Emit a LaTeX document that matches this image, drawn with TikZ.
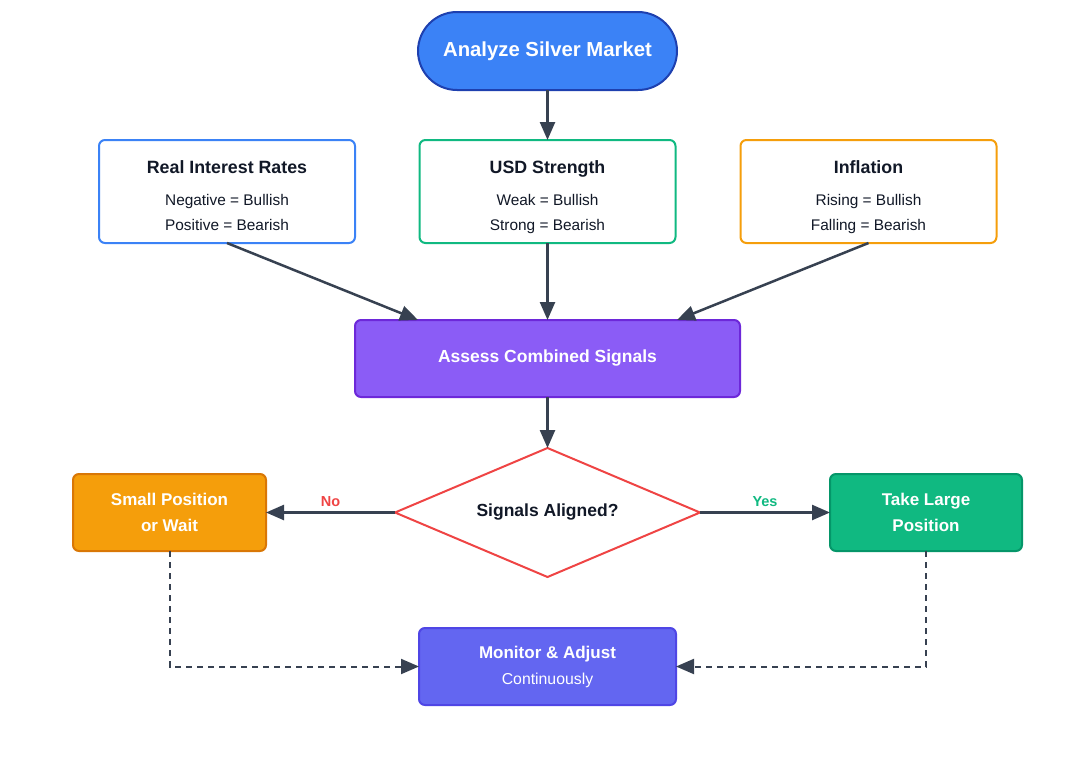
\documentclass[tikz,border=0pt]{standalone}
\usepackage{fontspec}
\setmainfont{Liberation Sans}
\usetikzlibrary{arrows.meta,positioning,shapes.geometric}

\definecolor{arrowgray}{HTML}{374151}
\definecolor{startblue}{HTML}{3B82F6}
\definecolor{startedge}{HTML}{1E40AF}
\definecolor{factblue}{HTML}{3B82F6}
\definecolor{factgreen}{HTML}{10B981}
\definecolor{factorange}{HTML}{F59E0B}
\definecolor{assessfill}{HTML}{8B5CF6}
\definecolor{assessedge}{HTML}{6D28D9}
\definecolor{decred}{HTML}{EF4444}
\definecolor{waitfill}{HTML}{F59E0B}
\definecolor{waitedge}{HTML}{D97706}
\definecolor{largefill}{HTML}{10B981}
\definecolor{largeedge}{HTML}{059669}
\definecolor{monfill}{HTML}{6366F1}
\definecolor{monedge}{HTML}{4F46E5}
\definecolor{textdark}{HTML}{111827}

\begin{document}
\begin{tikzpicture}[x=1pt,y=-1pt,>={Triangle[length=18pt,width=15pt]},line width=2.5pt,draw=arrowgray]
\tikzstyle{every node}=[inner sep=0pt,outer sep=0pt]
\tikzstyle{start}=[shape=rectangle,rounded corners=39pt,fill=startblue,draw=startedge,line width=2pt,minimum width=259pt,minimum height=78pt,text=white,font=\fontsize{20.3}{24}\selectfont\bfseries]
\tikzstyle{factor}=[shape=rectangle,rounded corners=6pt,fill=white,line width=2pt,minimum width=256pt,minimum height=103pt]
\tikzstyle{ftitle}=[anchor=base,text=textdark,font=\fontsize{17.8}{20}\selectfont\bfseries]
\tikzstyle{fline}=[anchor=base,text=textdark,font=\fontsize{15.4}{18}\selectfont]
\tikzstyle{action}=[shape=rectangle,rounded corners=6pt,line width=2pt,minimum height=77pt,text=white,align=center,font=\fontsize{17}{26}\selectfont\bfseries]
\tikzstyle{decision}=[shape=diamond,aspect=2.364,fill=white,draw=decred,line width=2pt,minimum width=305pt,minimum height=129pt,text=textdark,font=\fontsize{17.5}{20}\selectfont\bfseries]
\tikzstyle{flow}=[->,arrowgray,line width=2.5pt]
\tikzstyle{loopback}=[->,arrowgray,line width=2pt,dash pattern=on 6pt off 5pt]

\useasboundingbox (0,0) rectangle (1086,779);

\node[start]                 (analyze) at (547.5,51)    {Analyze Silver Market};

\node[factor,draw=factblue]   (rates)  at (227,191.5)   {};
\node[factor,draw=factgreen]  (usd)    at (547.5,191.5) {};
\node[factor,draw=factorange] (infl)   at (868.5,191.5) {};

\node[ftitle,yshift=-33pt]   (ratesT)  at (rates.north) {Real Interest Rates};
\node[fline,yshift=-65.5pt]  (ratesA)  at (rates.north) {Negative = Bullish};
\node[fline,yshift=-90.5pt]  (ratesB)  at (rates.north) {Positive = Bearish};
\node[ftitle,yshift=-33pt]   (usdT)    at (usd.north)   {USD Strength};
\node[fline,yshift=-65.5pt]  (usdA)    at (usd.north)   {Weak = Bullish};
\node[fline,yshift=-90.5pt]  (usdB)    at (usd.north)   {Strong = Bearish};
\node[ftitle,yshift=-33pt]   (inflT)   at (infl.north)  {Inflation};
\node[fline,yshift=-65.5pt]  (inflA)   at (infl.north)  {Rising = Bullish};
\node[fline,yshift=-90.5pt]  (inflB)   at (infl.north)  {Falling = Bearish};

\node[action,fill=assessfill,draw=assessedge,minimum width=385pt,font=\fontsize{17.5}{26}\selectfont\bfseries] (assess) at (547.5,358.5) {Assess Combined Signals};
\node[decision] (aligned) at (547.5,512.5) {Signals Aligned?};
\node[action,fill=waitfill,draw=waitedge,minimum width=193pt]   (small) at (169.5,512.5) {Small Position\\or Wait};
\node[action,fill=largefill,draw=largeedge,minimum width=192pt] (large) at (926,512.5)   {Take Large\\Position};
\node[action,fill=monfill,draw=monedge,minimum width=257pt]     (monitor) at (547.5,666.5) {Monitor \& Adjust\\{\mdseries\fontsize{15.8}{18}\selectfont Continuously}};

\draw[flow] (analyze) -- (usd);
\draw[flow] (rates.south) -- ([xshift=63pt]assess.north west);
\draw[flow] (usd) -- (assess);
\draw[flow] (infl.south) -- ([xshift=-63pt]assess.north east);
\draw[flow] (assess) -- (aligned);
\draw[flow] (aligned.west) -- node[above=6pt,text=decred,font=\fontsize{14.5}{15}\selectfont\bfseries] (no) {No} (small.east);
\draw[flow] (aligned.east) -- node[above=6pt,text=factgreen,font=\fontsize{14.5}{15}\selectfont\bfseries] (yes) {Yes} (large.west);
\draw[loopback] (small.south) |- (monitor.west);
\draw[loopback] (large.south) |- (monitor.east);
\end{tikzpicture}
\end{document}
